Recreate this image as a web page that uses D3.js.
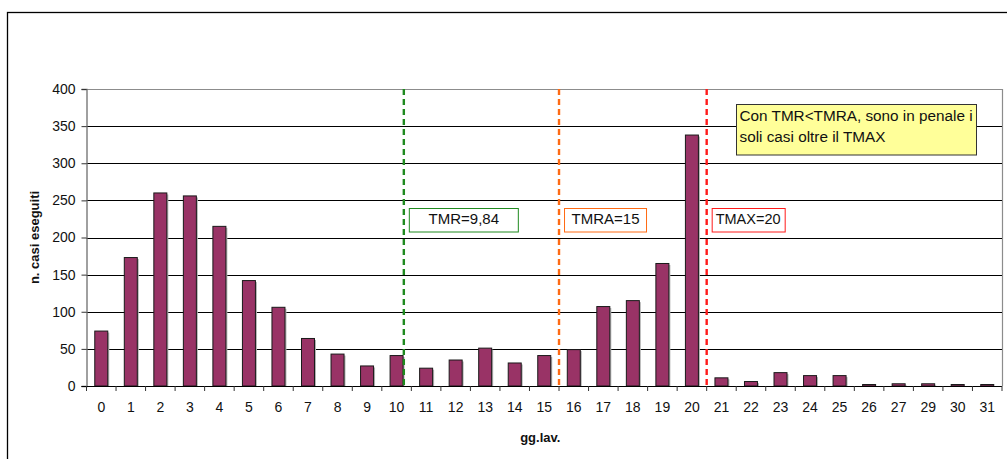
<!DOCTYPE html>
<html>
<head>
<meta charset="utf-8">
<script src="https://cdn.jsdelivr.net/npm/d3@7"></script>
<style>
  html, body { margin: 0; padding: 0; background: #fff; }
  svg { display: block; font-family: "Liberation Sans", Arial, sans-serif; }
</style>
</head>
<body>
<svg id="chart" width="1007" height="459"></svg>
<script>
// Working days to completion (gg.lav.) and number of cases completed
const categories = ["0","1","2","3","4","5","6","7","8","9","10","11","12","13","14","15","16","17","18","19","20","21","22","23","24","25","26","27","29","30","31"];
const cases = [74, 173, 260, 256, 215, 142, 106, 64, 43, 27, 41, 24, 35, 51, 31, 41, 49, 107, 115, 165, 338, 11, 6, 18, 14, 14, 2, 3, 3, 2, 2];
const yTicks = [0, 50, 100, 150, 200, 250, 300, 350, 400];

// Reference thresholds: the category they sit in and the fraction of that band
const thresholdNames = ["TMR=9,84", "TMRA=15", "TMAX=20"];
const thresholdCats = ["10", "16", "21"];
const thresholdFrac = [0.745, 0, 0];
const thresholdColors = ["#1f8a1f", "#ff6a13", "#ff1a1a"];

const noteLines = ["Con TMR<TMRA, sono in penale i", "soli casi oltre il TMAX"];

const svg = d3.select("#chart");
const plot = { left: 86.5, right: 1002, top: 89, bottom: 386 };
const FONT = "Liberation Sans, Arial, sans-serif";

// outer chart frame
svg.append("rect")
  .attr("x", 7.5).attr("y", 12.5)
  .attr("width", 1010).attr("height", 460)
  .attr("fill", "#fff").attr("stroke", "#000").attr("stroke-width", 1.3);

const x = d3.scaleBand().domain(categories).range([plot.left, plot.right]).padding(0);
const y = d3.scaleLinear().domain([0, 400]).range([plot.bottom, plot.top]);

// plot area frame (top and right)
svg.append("path")
  .attr("d", `M${plot.left},${plot.top + 0.5}H${plot.right + 0.5}V${plot.bottom}`)
  .attr("fill", "none").attr("stroke", "#8c8c8c").attr("stroke-width", 1.2);

// horizontal gridlines
svg.append("g").selectAll("line")
  .data(yTicks.filter(v => v > 0 && v < 400))
  .join("line")
  .attr("x1", plot.left).attr("x2", plot.right)
  .attr("y1", d => Math.round(y(d)) + 0.5).attr("y2", d => Math.round(y(d)) + 0.5)
  .attr("stroke", "#000").attr("stroke-width", 1);

// bars with a faint drop shadow
const barW = x.bandwidth() * 0.44;
const bars = svg.append("g");
bars.selectAll("rect.shadow")
  .data(cases)
  .join("rect")
  .attr("class", "shadow")
  .attr("x", (d, i) => x(categories[i]) + (x.bandwidth() - barW) / 2 + 1.5)
  .attr("y", d => y(d) + 1.5)
  .attr("width", barW)
  .attr("height", d => plot.bottom - y(d) - 1.5)
  .attr("fill", "#b4b4b4");
bars.selectAll("rect.bar")
  .data(cases)
  .join("rect")
  .attr("class", "bar")
  .attr("x", (d, i) => x(categories[i]) + (x.bandwidth() - barW) / 2)
  .attr("y", d => y(d))
  .attr("width", barW)
  .attr("height", d => plot.bottom - y(d))
  .attr("fill", "#993366")
  .attr("stroke", "#1a1a1a").attr("stroke-width", 1);

// y axis
const yAxis = svg.append("g")
  .attr("transform", `translate(${plot.left},0)`)
  .call(d3.axisLeft(y).tickValues(yTicks).tickSize(5).tickPadding(6));
yAxis.select(".domain").attr("stroke", "#6e6e6e").attr("stroke-width", 1.3);
yAxis.selectAll(".tick line").attr("stroke", "#333");
yAxis.selectAll("text").attr("font-size", 14).attr("fill", "#111").attr("font-family", FONT);

// x axis: baseline, ticks at band edges, labels at band centres
const xAxis = svg.append("g")
  .attr("transform", `translate(0,${plot.bottom})`)
  .call(d3.axisBottom(x).tickSize(0).tickPadding(16));
xAxis.select(".domain").remove();
xAxis.selectAll("text").attr("font-size", 14).attr("fill", "#111").attr("font-family", FONT);
svg.append("line")
  .attr("x1", plot.left - 5).attr("x2", plot.right)
  .attr("y1", plot.bottom + 0.5).attr("y2", plot.bottom + 0.5)
  .attr("stroke", "#000").attr("stroke-width", 1.2);
const edges = categories.map(c => x(c)).concat([x.range()[1]]);
svg.append("g").selectAll("line")
  .data(edges)
  .join("line")
  .attr("x1", d => d).attr("x2", d => d)
  .attr("y1", plot.bottom).attr("y2", plot.bottom + 5)
  .attr("stroke", "#333");

// threshold lines and labels
const thresholdX = thresholdCats.map((c, i) => x(c) + thresholdFrac[i] * x.bandwidth());
const boxW = [109, 82, 73];
const labelSize = [15, 15, 14.5];
thresholdX.forEach((tx, i) => {
  svg.append("line")
    .attr("x1", tx).attr("x2", tx)
    .attr("y1", plot.top).attr("y2", plot.bottom)
    .attr("stroke", thresholdColors[i]).attr("stroke-width", 2.4)
    .attr("stroke-dasharray", "6,4");
  const bx = tx + 5.5;
  svg.append("rect")
    .attr("x", bx).attr("y", 208.5)
    .attr("width", boxW[i]).attr("height", 23.5)
    .attr("fill", "#fff")
    .attr("stroke", thresholdColors[i]).attr("stroke-width", 1);
  svg.append("text")
    .attr("x", i === 2 ? bx + 3.5 : bx + boxW[i] / 2)
    .attr("y", 224)
    .attr("text-anchor", i === 2 ? "start" : "middle")
    .attr("font-size", labelSize[i]).attr("fill", "#111")
    .text(thresholdNames[i]);
});

// note box
svg.append("rect")
  .attr("x", 736.5).attr("y", 104.5)
  .attr("width", 240).attr("height", 50.5)
  .attr("fill", "#ffff99").attr("stroke", "#333").attr("stroke-width", 1);
svg.append("g").selectAll("text")
  .data(noteLines)
  .join("text")
  .attr("x", 739.5).attr("y", (d, i) => 120.5 + i * 21)
  .attr("font-size", 15.3).attr("fill", "#111")
  .text(d => d);

// axis titles
svg.append("text")
  .attr("transform", `translate(39,${(plot.top + plot.bottom) / 2}) rotate(-90)`)
  .attr("text-anchor", "middle")
  .attr("font-size", 13).attr("font-weight", "bold").attr("fill", "#111")
  .text("n. casi eseguiti");
svg.append("text")
  .attr("x", (plot.left + plot.right) / 2 - 4).attr("y", 441.5)
  .attr("text-anchor", "middle")
  .attr("font-size", 13).attr("font-weight", "bold").attr("fill", "#111")
  .text("gg.lav.");
</script>
</body>
</html>
